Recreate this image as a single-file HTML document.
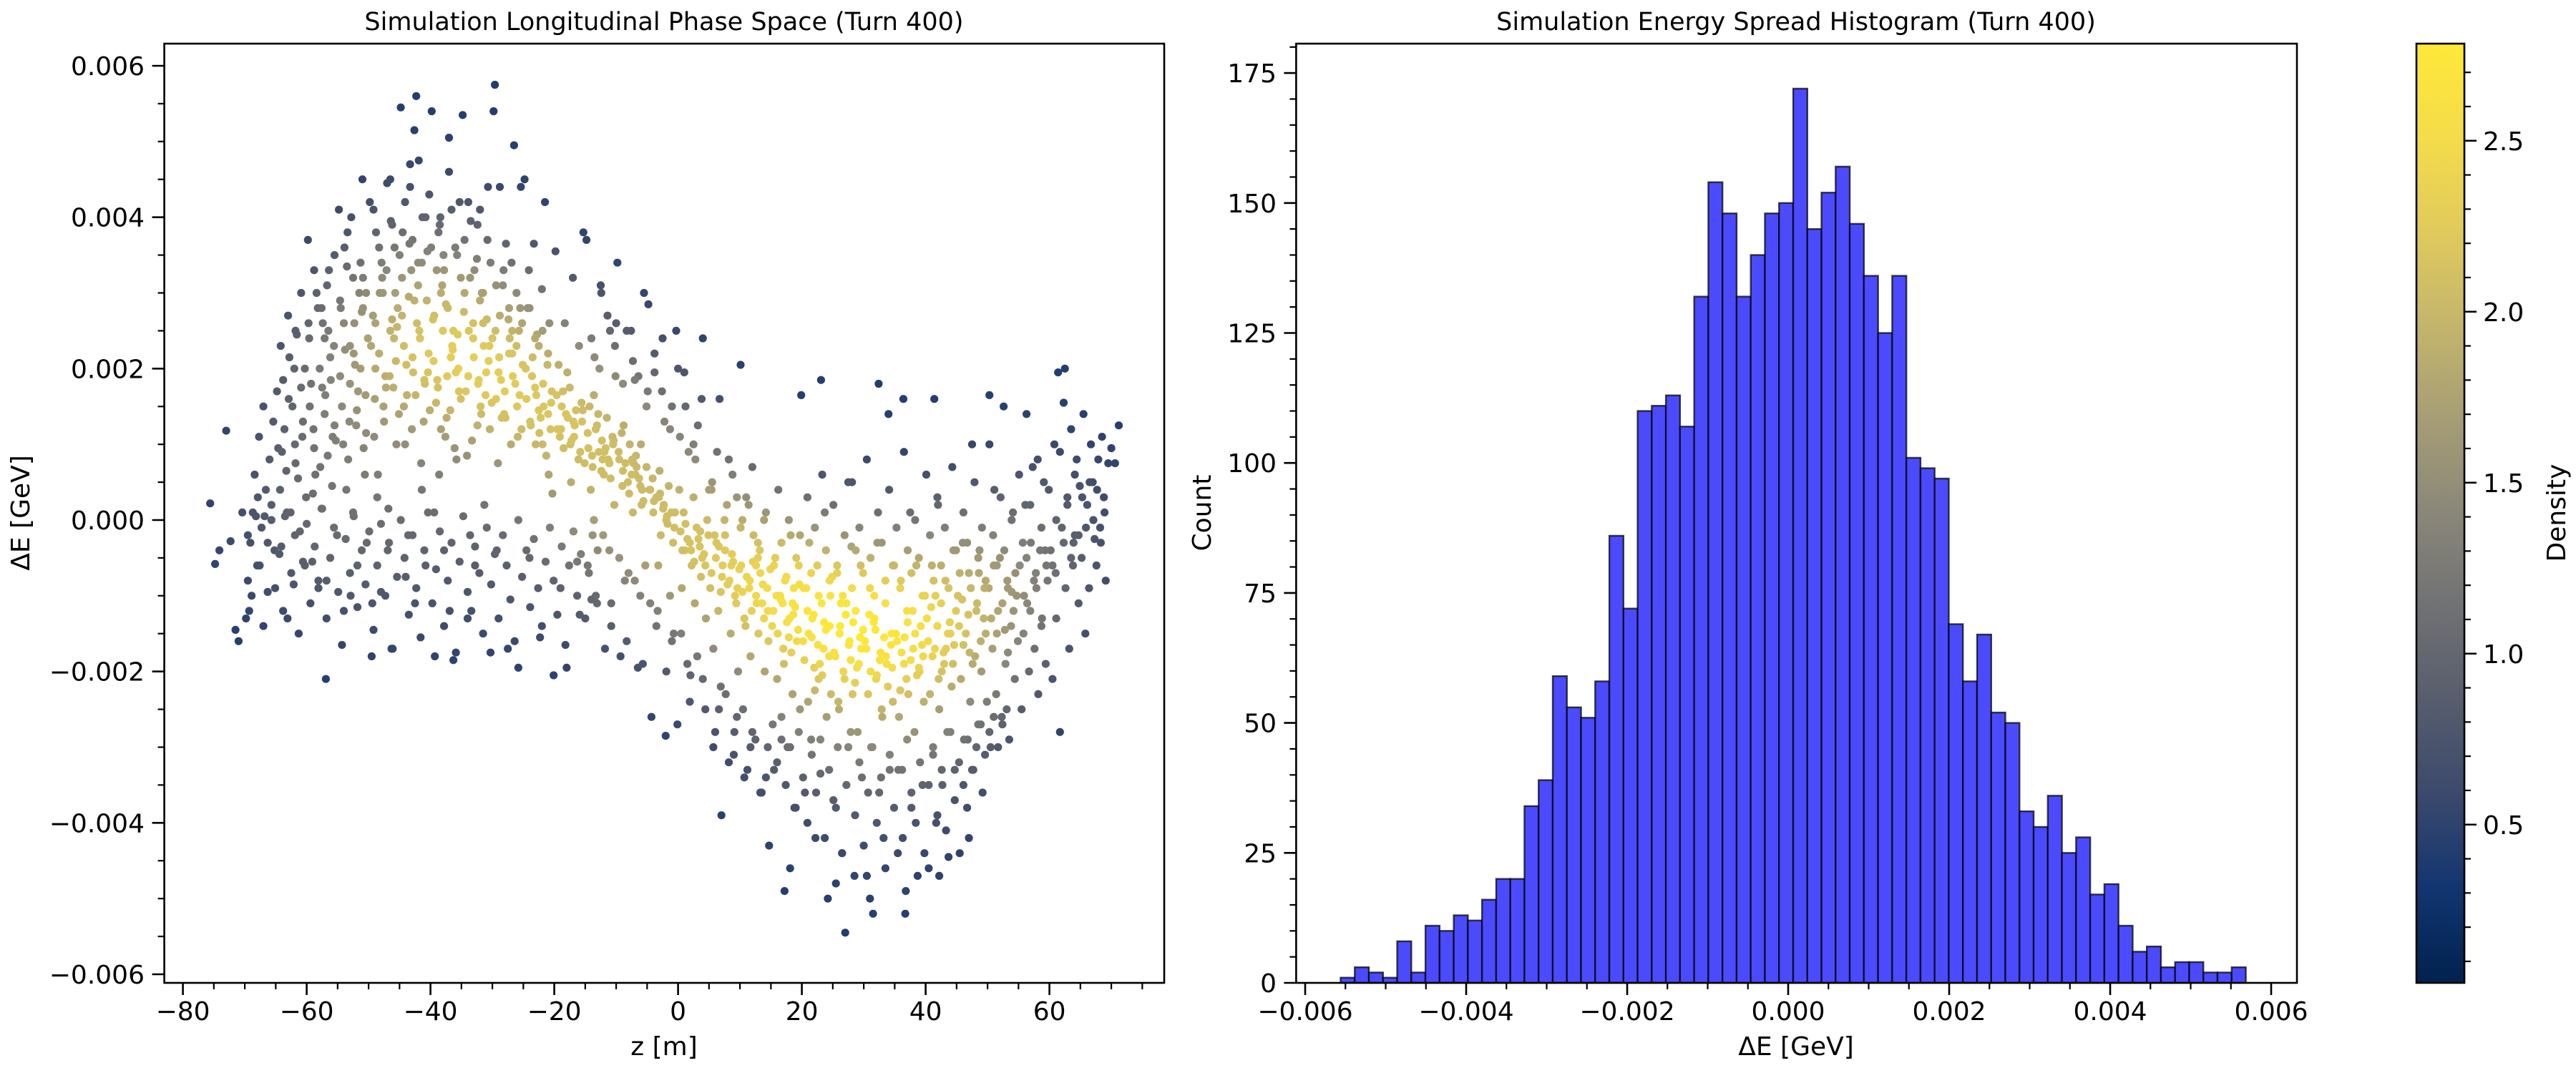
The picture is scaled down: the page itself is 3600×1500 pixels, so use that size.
<!DOCTYPE html>
<html><head><meta charset="utf-8">
<style>
html,body{margin:0;padding:0;background:#fff;}
svg{display:block;}
text{font-family:"DejaVu Sans","Liberation Sans",sans-serif;fill:#000;}
</style></head>
<body>
<svg id="fig" xmlns="http://www.w3.org/2000/svg" width="3600" height="1500" viewBox="0 0 3600 1500">
<defs>
<linearGradient id="cividis" x1="0" y1="1" x2="0" y2="0">
<stop offset="0" stop-color="#00224e"/><stop offset="0.1" stop-color="#123570"/><stop offset="0.2" stop-color="#3b496c"/><stop offset="0.3" stop-color="#575d6d"/><stop offset="0.4" stop-color="#707173"/><stop offset="0.5" stop-color="#8a8779"/><stop offset="0.6" stop-color="#a69d75"/><stop offset="0.7" stop-color="#c4b56c"/><stop offset="0.8" stop-color="#e0ca5c"/><stop offset="0.9" stop-color="#f4dc4a"/><stop offset="1" stop-color="#fee838"/>
</linearGradient>
</defs>
<g id="left"></g>
<g id="right"></g>
<g id="cbar"></g>
</svg>
<script>
// ---- scatter data: z [m] and dE [1e-5 GeV] ----
const zVals = [
-75.6,-74.8,-74.1,-73.0,-72.3,-71.5,-71.0,-70.4,
-69.8,-69.5,-69.1,-68.7,-68.4,-68.0,-67.7,-67.3,-67.0,-66.6,-66.3,-66.0,-65.7,-65.4,-65.2,-69.3,-67.9,-66.8,
-64.8,-64.6,-64.3,-64.1,-63.8,-63.6,-63.3,-63.1,-62.8,-62.6,-62.3,-62.1,-61.9,-61.6,-61.4,-61.1,-60.9,-60.6,-60.3,-60.1,-64.0,-62.9,-61.8,-60.7,-63.5,-62.0,
-59.8,-59.6,-59.3,-59.1,-58.9,-58.6,-58.4,-58.1,-57.9,-57.6,-57.4,-57.1,-56.9,-56.6,-56.4,-56.1,-55.9,-55.6,-55.3,-55.1,-59.5,-58.8,-58.2,-57.5,-56.8,-56.2,-55.5,-59.0,-57.8,-56.5,-57.0,-55.8,
-54.8,-54.5,-54.3,-54.0,-53.8,-53.5,-53.3,-53.0,-52.8,-52.5,-52.3,-52.0,-51.8,-51.5,-51.3,-51.0,-50.8,-50.5,-50.3,-50.1,-54.6,-53.9,-53.1,-52.4,-51.7,-51.1,-50.6,-54.1,-52.9,-51.9,-50.9,-53.6,-52.2,-50.4,
-49.8,-49.5,-49.3,-49.0,-48.8,-48.5,-48.3,-48.0,-47.8,-47.5,-47.3,-47.0,-46.8,-46.5,-46.3,-46.0,-45.8,-45.5,-45.3,-45.1,-49.6,-48.9,-48.2,-47.6,-46.9,-46.2,-45.6,-49.1,-47.9,-46.6,-45.9,-48.6,-47.2,-45.4,-46.4,-49.4,
-44.8,-44.5,-44.3,-44.0,-43.8,-43.5,-43.3,-43.0,-42.8,-42.5,-42.3,-42.0,-41.8,-41.5,-41.3,-41.0,-40.8,-40.5,-40.3,-40.1,-44.6,-43.9,-43.1,-42.4,-41.7,-41.1,-40.6,-44.1,-42.9,-41.9,-40.9,-43.6,-42.2,-40.4,-42.6,-41.4,-43.4,-44.3,
-39.8,-39.5,-39.3,-39.0,-38.8,-38.5,-38.3,-38.0,-37.8,-37.5,-37.3,-37.0,-36.8,-36.5,-36.3,-36.0,-35.8,-35.5,-35.3,-35.1,-39.6,-38.9,-38.1,-37.4,-36.7,-36.1,-35.6,-39.1,-37.9,-36.9,-35.9,-38.6,-37.2,-35.4,-36.4,-39.4,-38.4,-37.6,
-34.8,-34.5,-34.3,-34.0,-33.8,-33.5,-33.3,-33.0,-32.8,-32.5,-32.3,-32.0,-31.8,-31.5,-31.3,-31.0,-30.8,-30.5,-30.3,-30.1,-34.6,-33.9,-33.1,-32.4,-31.7,-31.1,-30.6,-34.1,-32.9,-31.9,-30.9,-33.6,-32.2,-30.4,-31.4,-29.6,
-29.8,-29.5,-29.3,-29.0,-28.8,-28.5,-28.3,-28.0,-27.8,-27.5,-27.3,-27.0,-26.8,-26.5,-26.3,-26.0,-25.8,-25.5,-25.3,-25.1,-29.4,-28.9,-28.1,-27.4,-26.7,-26.1,-25.6,-29.1,-27.9,-26.9,-25.9,-28.6,-27.2,-25.4,
-24.8,-24.5,-24.3,-24.0,-23.8,-23.5,-23.3,-23.0,-22.8,-22.5,-22.3,-22.0,-21.8,-21.5,-21.3,-21.0,-20.8,-20.5,-20.3,-20.1,-24.6,-23.9,-23.1,-22.4,-21.7,-21.1,-20.6,-24.1,-22.9,-21.9,-20.9,-23.6,-22.2,-20.4,
-19.8,-19.5,-19.3,-19.0,-18.8,-18.5,-18.3,-18.0,-17.8,-17.5,-17.3,-17.0,-16.8,-16.5,-16.3,-16.0,-15.8,-15.5,-15.3,-15.1,-19.6,-18.9,-18.1,-17.4,-16.7,-16.1,-15.6,-19.1,-17.9,-16.9,-15.9,-18.6,-17.2,-15.4,
-14.8,-14.5,-14.3,-14.0,-13.8,-13.5,-13.3,-13.0,-12.8,-12.5,-12.3,-12.0,-11.8,-11.5,-11.3,-11.0,-10.8,-10.5,-10.3,-10.1,-14.6,-13.9,-13.1,-12.4,-11.7,-11.1,-10.6,-14.1,-12.9,-11.9,-10.9,-13.6,-12.2,-10.4,
-9.8,-9.5,-9.3,-9.0,-8.8,-8.5,-8.3,-8.0,-7.8,-7.5,-7.3,-7.0,-6.8,-6.5,-6.3,-6.0,-5.8,-5.5,-5.3,-5.1,-9.6,-8.9,-8.1,-7.4,-6.7,-6.1,-5.6,-9.1,-7.9,-6.9,-5.9,-7.2,
-4.8,-4.5,-4.3,-4.0,-3.8,-3.5,-3.3,-3.0,-2.8,-2.5,-2.3,-2.0,-1.8,-1.5,-1.3,-1.0,-0.8,-0.5,-0.3,-0.1,-4.6,-3.9,-3.1,-2.4,-1.7,-1.1,-0.6,-4.1,-2.9,-1.9,
0.2,0.5,0.7,1.0,1.2,1.5,1.7,2.0,2.2,2.5,2.7,3.0,3.2,3.5,3.7,4.0,4.2,4.5,4.7,4.9,0.4,1.1,1.9,2.6,3.3,3.9,4.4,0.9,2.1,3.6,
5.2,5.5,5.7,6.0,6.2,6.5,6.7,7.0,7.2,7.5,7.7,8.0,8.2,8.5,8.7,9.0,9.2,9.5,9.7,9.9,5.4,6.1,6.9,7.6,8.3,8.9,9.4,5.9,7.1,8.6,9.6,6.6,
10.2,10.5,10.7,11.0,11.2,11.5,11.7,12.0,12.2,12.5,12.7,13.0,13.2,13.5,13.7,14.0,14.2,14.5,14.7,14.9,10.4,11.1,11.9,12.6,13.3,13.9,14.4,10.9,12.1,13.6,14.6,11.6,12.9,10.1,
15.2,15.5,15.7,16.0,16.2,16.5,16.7,17.0,17.2,17.5,17.7,18.0,18.2,18.5,18.7,19.0,19.2,19.5,19.7,19.9,15.4,16.1,16.9,17.6,18.3,18.9,19.4,15.9,17.1,18.6,19.6,16.6,17.9,18.1,
20.2,20.5,20.7,21.0,21.2,21.5,21.7,22.0,22.2,22.5,22.7,23.0,23.2,23.5,23.7,24.0,24.2,24.5,24.7,24.9,20.4,21.1,21.9,22.6,23.3,23.9,24.4,20.9,22.1,23.6,24.6,21.6,22.9,23.1,
25.2,25.5,25.7,26.0,26.2,26.5,26.7,27.0,27.2,27.5,27.7,28.0,28.2,28.5,28.7,29.0,29.2,29.5,29.7,29.9,25.4,26.1,26.9,27.6,28.3,28.9,29.4,25.9,27.1,28.6,29.6,26.6,27.9,28.1,
30.2,30.5,30.7,31.0,31.2,31.5,31.7,32.0,32.2,32.5,32.7,33.0,33.2,33.5,33.7,34.0,34.2,34.5,34.7,34.9,30.4,31.1,31.9,32.6,33.3,33.9,34.4,30.9,32.1,33.6,34.6,31.6,32.9,32.4,
35.2,35.5,35.7,36.0,36.2,36.5,36.7,37.0,37.2,37.5,37.7,38.0,38.2,38.5,38.7,39.0,39.2,39.5,39.7,39.9,35.4,36.1,36.9,37.6,38.3,38.9,39.4,35.9,37.1,38.6,39.6,36.6,37.9,36.4,
40.2,40.5,40.7,41.0,41.2,41.5,41.7,42.0,42.2,42.5,42.7,43.0,43.2,43.5,43.7,44.0,44.2,44.5,44.7,44.9,40.4,41.1,41.9,42.6,43.3,43.9,44.4,40.9,42.1,43.6,44.6,41.6,42.9,41.4,
45.2,45.5,45.7,46.0,46.2,46.5,46.7,47.0,47.2,47.5,47.7,48.0,48.2,48.5,48.7,49.0,49.2,49.5,49.7,49.9,45.4,46.1,46.9,47.6,48.3,48.9,49.4,45.9,47.1,48.6,
50.2,50.5,50.8,51.1,51.4,51.7,52.0,52.3,52.6,52.9,53.2,53.5,53.8,54.1,54.4,54.7,54.9,50.6,51.5,52.4,53.3,54.2,51.0,52.8,53.9,50.3,
55.2,55.5,55.8,56.1,56.4,56.7,57.0,57.3,57.6,57.9,58.2,58.5,58.8,59.1,59.4,59.7,55.9,56.9,57.8,58.7,59.5,56.3,
60.2,60.5,60.8,61.1,61.4,61.7,62.0,62.3,62.6,62.9,63.2,63.5,63.8,64.1,64.4,64.7,61.0,62.5,63.9,64.9,
65.2,65.5,65.8,66.1,66.4,66.7,67.0,67.3,67.6,67.9,68.2,68.5,68.8,69.1,69.5,70.0,70.6,71.2,
-69.5,-68.9,-68.2,-67.6,-67.0,-66.3,-65.7,-65.1,-64.4,-63.8,-63.2,-62.5,-61.9,-61.3,-60.6,-60.0,-59.4,-58.7,-58.1,-57.5,-56.8,-56.2,-55.6,-54.9,-54.3,-53.7,-53.0,-52.4,-51.8,-51.1,-50.5,-49.9,-49.2,-48.6,-48.0,-47.3,-46.7,-46.1,-45.4,-44.8,-44.2,-43.5,-42.9,-42.3,-41.6,-41.0,-40.4,-39.7,-39.1,-38.5,-37.8,-37.2,-36.6,-35.9,-35.3,-34.7,-34.0,-33.4,-32.8,-32.1,-31.5,-30.9,-30.2,-29.6,-29.0,-28.3,-27.7,-27.1,-26.4,-25.8,-25.2,-24.5,-23.9,-23.3,-22.6,-22.0,-21.4,-20.7,-20.1,-19.5,-18.8,-18.2,-17.6,-16.9,-16.3,-15.7,-15.0,-14.4,-13.8,-13.1,
-64.2,-63.0,-61.8,-60.9,-59.7,-58.8,-57.6,-56.7,-55.5,-54.6,-53.4,-52.5,-51.3,-50.4,-49.2,-48.3,-47.1,-46.2,-45.0,-44.1,-42.9,-42.0,-40.8,-39.9,-38.7,-37.8,-36.6,-35.7,-34.5,-33.6,-32.4,-31.5,-30.3,-29.4,-28.2,-27.3,-26.1,-25.2,-24.0,-23.1,-21.9,-21.0,-60.3,-57.1,-54.0,-50.9,-47.7,-44.6,-41.4,-38.3,-35.1,-32.0,-28.8,-25.7,-22.5,-53.0,-48.9,-45.7,-42.6,-39.4,-36.3,-33.1,-30.0,-26.8,-46.5,-43.3,-40.2,-37.0,-33.9,-30.7,
-14.6,-14.0,-13.3,-12.7,-12.1,-11.4,-10.8,-10.2,-9.5,-8.9,-8.3,-7.6,-7.0,-6.4,-5.7,-5.1,-4.5,-3.8,-3.2,-2.6,-1.9,-1.3,-0.7,0.0,0.6,1.2,1.9,2.5,3.1,3.8,4.4,5.0,5.7,6.3,6.9,7.6,8.2,8.8,9.5,10.1,10.7,11.4,12.0,12.6,13.3,13.9,14.5,-12.4,-10.0,-7.3,-4.9,-2.2,0.3,2.8,5.4,7.9,10.4,12.9,-13.6,-11.1,-8.6,-6.1,-3.5,-1.0,1.5,4.0,6.6,9.1,11.7,14.2,
15.5,16.1,16.7,17.3,17.9,18.5,19.1,19.7,20.3,20.9,21.5,22.1,22.7,23.3,23.9,24.5,25.1,25.7,26.3,26.9,27.5,28.1,28.7,29.3,29.9,30.5,31.1,31.7,32.3,32.9,33.5,34.1,34.7,35.3,35.9,36.5,37.1,37.7,38.3,38.9,39.5,40.1,40.7,41.3,41.9,42.5,43.1,43.7,44.3,44.9,45.5,46.1,46.7,47.3,47.9,48.5,49.1,49.7,50.3,50.9,51.5,52.1,52.7,53.3,53.9,54.5,55.1,55.7,56.3,56.9,57.5,58.1,58.7,59.3,59.9,60.5,61.1,61.7,62.3,62.9,63.5,64.1,64.7,65.3,65.9,66.5,67.1,67.7,68.3,68.9,
15.3,16.0,16.7,17.4,18.1,18.8,19.5,20.2,20.9,21.6,22.3,23.0,23.7,24.4,25.1,25.8,26.5,27.2,27.9,28.6,29.3,30.0,30.7,31.4,32.1,32.8,33.5,34.2,34.9,35.6,36.3,37.0,37.7,38.4,39.1,39.8,40.5,41.2,41.9,42.6,43.3,44.0,44.7,45.4,46.1,46.8,47.5,48.2,48.9,49.6,50.3,51.0,51.7,52.4,53.1,25.5,31.0,36.8,42.2,47.0
];
const dEVals = [
22,-58,-40,118,-28,-145,-160,10,
-130,-80,-30,10,60,-60,110,-10,150,40,-95,80,20,130,-40,-120,30,5,
170,95,40,-35,185,120,65,-130,215,10,150,-85,100,245,55,-15,175,130,-60,30,90,160,75,110,5,200,
370,240,180,-55,120,60,300,-90,200,15,260,140,-210,85,330,185,45,230,105,-20,150,95,280,175,-80,215,125,35,70,250,165,110,
410,280,150,-120,225,335,80,180,400,10,260,125,-60,300,200,450,95,165,-30,240,190,360,130,220,170,275,60,100,-100,145,320,40,205,115,
420,-180,270,160,380,60,220,-95,320,130,190,445,15,250,-170,175,360,100,280,140,230,200,300,150,-40,265,210,110,340,190,240,30,175,255,395,-110,
545,380,230,-75,165,295,440,120,195,-110,560,310,250,75,400,185,-60,355,220,145,270,205,330,165,240,130,290,100,215,475,180,-20,260,195,515,40,365,150,
540,210,-180,330,175,390,120,250,-40,285,190,505,145,230,-185,360,80,200,420,160,265,185,310,135,215,95,245,155,350,-120,195,60,280,170,225,10,400,110,
535,300,170,-130,250,395,105,215,-60,345,180,410,140,260,20,195,370,230,-175,155,275,190,240,125,300,165,210,85,330,150,265,-20,185,120,230,575,
540,250,-40,195,440,135,310,170,365,-170,220,100,250,495,180,150,-195,280,120,205,160,215,140,265,190,230,165,75,135,340,110,185,240,440,
450,160,280,-50,125,215,365,100,245,145,-155,305,180,420,85,140,260,155,35,-205,200,130,175,115,150,205,120,330,165,100,60,190,135,170,
355,120,205,-90,150,95,260,-195,135,175,50,320,110,145,-55,230,90,130,380,75,165,120,140,100,125,80,155,110,195,130,-125,170,105,145,
370,95,150,-105,70,215,120,-40,90,310,105,60,-170,135,80,250,-110,100,20,190,115,85,125,65,95,75,110,40,140,90,55,165,80,105,
340,80,-180,45,125,75,250,-70,100,60,10,185,85,-195,55,100,40,300,-60,70,90,65,50,80,70,45,25,115,35,60,20,75,
285,40,-260,10,195,30,-120,65,-20,240,20,-285,5,45,-100,150,-30,10,250,-270,40,25,30,15,-5,10,-10,55,35,0,
40,-150,-40,195,-5,-25,90,-205,-60,30,-110,-10,125,-35,-75,240,-45,-130,0,-20,-15,-40,-30,-55,-25,-50,-60,10,-40,-15,
-90,50,-170,-280,-30,-120,160,-390,-60,0,-230,-85,80,-150,-45,-310,-100,30,-200,-65,-70,-50,-95,-40,-80,-55,-110,-20,-75,-60,-90,-35,
-60,-250,-130,30,-330,-90,-180,70,-20,-290,-110,-150,-40,-360,-85,-200,10,-120,-430,-65,-95,-75,-120,-100,-70,-130,-90,-140,-55,-110,-160,-80,-50,205,
-140,-330,-50,-210,40,-100,-260,-170,-490,-75,-300,-130,-20,-230,-90,-380,-160,-60,-250,165,-120,-150,-110,-135,-175,-115,-145,-100,-190,-125,-85,-105,-155,-460,
-160,-360,-90,-240,-30,-290,-130,-195,-420,-60,-210,-335,-110,-170,10,-260,-500,-140,-230,-75,-185,-150,-125,-165,-205,-145,-180,-120,-225,-135,-100,-155,-190,185,
-175,-380,-70,-250,-140,-440,-200,-545,-110,-300,-160,-35,-230,-470,-120,-280,-190,-60,-340,-145,-180,-150,-210,-165,-135,-195,-155,-240,-125,-215,-170,-100,-185,50,
-160,-470,-230,-90,-300,-520,-130,-210,-30,-360,-175,-260,-420,-110,-190,140,-330,-150,-240,-60,-170,-200,-145,-185,-155,-220,-165,-125,-205,-180,-195,-135,-250,180,
-150,-440,-260,-80,-330,-190,-520,-120,-230,10,-380,-170,-280,-60,-470,-200,-140,-350,-240,-100,-160,-175,-210,-185,-150,-195,-165,-225,-135,-205,-180,-155,-120,160,
-130,-460,-230,-60,-310,-170,-400,20,-250,-110,-350,-190,-80,-280,-445,-150,-220,-40,-330,-120,-160,-180,-140,-200,-170,-135,-190,-115,-210,-150,-165,-100,-175,160,
-100,-440,-210,-30,-290,-150,-380,-70,-240,100,-330,-180,-120,-270,-40,-200,-360,-90,-150,-240,-140,-165,-125,-190,-110,-160,-130,-105,-175,-70,
-90,-300,-170,40,-230,-120,-50,-260,150,-190,-80,-290,-140,10,-210,-100,-160,-130,-150,-110,-175,-120,-60,-145,-95,165,
-60,-250,-150,20,-110,-200,-30,70,-170,-90,-230,-40,-130,50,-190,-80,-100,-120,-70,-140,-60,140,
-40,-210,100,-130,195,-280,-10,155,-90,30,-170,120,-60,-20,80,-110,-70,200,-30,45,
-50,140,-150,20,-90,100,50,-25,-60,80,-10,110,30,-80,75,95,75,125,
-20,-100,5,-60,-140,-30,0,-90,-45,-120,10,-70,-20,-150,-55,-5,-110,-35,-80,15,-130,-50,-10,-95,-165,-25,-70,5,-115,-40,-85,-15,-145,-60,-5,-100,-30,-170,-75,0,-50,-125,-20,-90,-155,-40,10,-110,-65,-15,-140,-80,-30,-175,-55,5,-95,-120,-35,-70,-150,-10,-85,-45,-130,-20,-60,-105,-160,0,-75,-40,-115,-25,-90,-140,-55,-10,-80,-125,-35,-165,-60,-15,-100,-45,-130,-70,-20,-110,
230,270,250,300,260,330,280,310,350,290,380,320,340,300,410,360,330,390,350,420,370,340,400,360,380,330,410,350,370,320,390,300,340,310,330,280,300,260,280,240,250,220,200,240,260,280,300,320,340,300,320,290,270,250,230,230,260,300,290,270,250,260,240,220,450,470,430,460,420,440,
-60,240,-100,200,-20,270,-140,230,-50,180,-160,250,-80,190,-190,150,-110,220,-60,170,-200,120,-150,200,-90,150,-240,100,-180,160,-250,40,-300,90,-220,-20,-320,60,-260,-10,-340,20,-280,-60,-360,0,-300,300,260,210,170,130,110,80,40,20,0,-30,0,-40,-80,-100,-140,-160,-190,-210,-250,-280,-300,-340,
-60,-100,-30,-80,0,-110,-50,-20,-90,30,-70,-10,-100,60,-40,-80,20,-60,-110,-20,50,-90,-40,-10,-70,80,-50,-100,10,-30,-80,40,-60,-10,-90,90,-40,-70,0,-50,-100,60,-20,-80,30,-60,-10,-90,70,-40,-70,10,-30,-90,50,-50,-10,-80,100,-20,-60,30,-40,-90,0,-70,60,-30,-50,20,-80,80,-10,-40,40,-60,0,90,-30,20,-50,60,-20,30,-10,50,0,40,-30,10,
-270,-320,-290,-350,-300,-380,-280,-340,-400,-310,-360,-290,-420,-330,-370,-300,-440,-350,-280,-390,-320,-430,-360,-300,-400,-340,-460,-310,-380,-330,-420,-290,-360,-400,-320,-440,-350,-300,-390,-330,-410,-280,-370,-320,-350,-290,-330,-300,-270,-310,-280,-260,-300,-270,-250,-480,-500,-490,-470,-420
];
// ---- histogram data ----
const histCounts = [1,3,2,1,8,2,11,10,13,12,16,20,20,34,39,59,53,51,58,86,72,110,111,113,107,132,154,148,132,140,148,150,
172,145,152,157,146,136,125,136,101,99,97,69,58,67,52,50,33,30,36,25,28,17,19,11,6,7,3,4,4,2,2,3];
const histRange = [-0.00556, 0.005685];
// ---- tick labels ----
const zTicks = [-80,-60,-40,-20,0,20,40,60];
const dETicks = [-0.006,-0.004,-0.002,0,0.002,0.004,0.006];
const countTicks = [0,25,50,75,100,125,150,175];
const histXTicks = [-0.006,-0.004,-0.002,0,0.002,0.004,0.006];
const cbTicks = [0.5,1.0,1.5,2.0,2.5];
const cbRange = [0.037, 2.784];

const NS="http://www.w3.org/2000/svg";
function mk(parent,tag,attrs,txt){const e=document.createElementNS(NS,tag);for(const k in attrs)e.setAttribute(k,attrs[k]);if(txt!==undefined)e.textContent=txt;parent.appendChild(e);return e;}
function fmt(v,d){const s=Math.abs(v).toFixed(d);return (v<-1e-12?"\u2212":"")+s;}

const X1=z=>255.6+(z+80)*8.65;
const Y1=e=>92+(0.006-e)*105833;
const HX=v=>1824+(v+0.006)*112500;
const HY=c=>1374-c*7.268;
const CY=v=>61+(cbRange[1]-v)*478;

const cmapStops=[[0,0,34,78],[0.1,18,53,112],[0.2,59,73,108],[0.3,87,93,109],[0.4,112,113,115],[0.5,138,135,121],[0.6,166,157,117],[0.7,196,181,108],[0.8,224,202,92],[0.9,244,220,74],[1,254,232,56]];
function cmap(t){t=Math.max(0,Math.min(1,t));for(let i=1;i<cmapStops.length;i++){if(t<=cmapStops[i][0]){const a=cmapStops[i-1],b=cmapStops[i];const f=(t-a[0])/(b[0]-a[0]);return `rgb(${Math.round(a[1]+f*(b[1]-a[1]))},${Math.round(a[2]+f*(b[2]-a[2]))},${Math.round(a[3]+f*(b[3]-a[3]))})`;}}return "rgb(254,232,56)";}

// ===== Left panel =====
const L=document.getElementById('left');
const t1=mk(L,'text',{x:928,y:42,'font-size':35,'text-anchor':'middle'},'Simulation Longitudinal Phase Space (Turn 400)');


const n=Math.min(zVals.length,dEVals.length);
const dens=new Array(n).fill(0);
const bz=12, be=95;
for(let i=0;i<n;i++){let s=0;for(let j=0;j<n;j++){const a=(zVals[i]-zVals[j])/bz,b=(dEVals[i]-dEVals[j])/be;const q=a*a+b*b;if(q<9)s+=Math.exp(-0.5*q);}dens[i]=s;}
const dmax=Math.max(...dens), dmin=Math.min(...dens);
const order=[...Array(n).keys()].sort((a,b)=>dens[a]-dens[b]);
const pts=mk(L,'g',{});


for(const i of order){
  const t=0.14+0.86*Math.pow((dens[i]-dmin)/(dmax-dmin),1.9);
  const c=mk(pts,'circle',{cx:X1(zVals[i]).toFixed(1),cy:Y1(dEVals[i]*1e-5).toFixed(1),r:5.6,fill:cmap(t)});
  
  
}
const fr1=mk(L,'rect',{x:229.6,y:61,width:1397.4,height:1313,fill:'none',stroke:'#000','stroke-width':2.6});


for(let v=-80;v<=75;v+=5){const x=X1(v);const maj=v%20===0;mk(L,'line',{x1:x,x2:x,y1:1374,y2:1374+(maj?17:9),stroke:'#000','stroke-width':maj?2.6:2.2});}
for(const v of zTicks){const tx=mk(L,'text',{x:X1(v),y:1426,'font-size':36,'text-anchor':'middle'},fmt(v,0));

}
for(let k=-12;k<=12;k++){const v=k*0.0005;const y=Y1(v);const maj=k%4===0;mk(L,'line',{x1:229.6,x2:229.6-(maj?17:9),y1:y,y2:y,stroke:'#000','stroke-width':maj?2.6:2.2});}
for(const v of dETicks){const ty=mk(L,'text',{x:202,y:Y1(v)+13,'font-size':36,'text-anchor':'end'},fmt(v,3));

}
const xl1=mk(L,'text',{x:928,y:1475,'font-size':36,'text-anchor':'middle'},'z [m]');


const yl1=mk(L,'text',{x:0,y:0,'font-size':36,'text-anchor':'middle',transform:'translate(41,717) rotate(-90)'},'\u0394E [GeV]');



// ===== Right panel =====
const R=document.getElementById('right');
const t2=mk(R,'text',{x:2510,y:42,'font-size':35,'text-anchor':'middle'},'Simulation Energy Spread Histogram (Turn 400)');


const bw=(histRange[1]-histRange[0])/histCounts.length;
const bars=mk(R,'g',{});


histCounts.forEach((c,i)=>{
  const x0=HX(histRange[0]+i*bw),x1=HX(histRange[0]+(i+1)*bw);
  const r=mk(bars,'rect',{x:x0.toFixed(2),y:HY(c).toFixed(2),width:(x1-x0).toFixed(2),height:(HY(0)-HY(c)).toFixed(2),fill:'#4b4bfd',stroke:'rgba(0,0,0,0.72)','stroke-width':2.4});
  
  
});
const fr2=mk(R,'rect',{x:1811.4,y:61,width:1398.6,height:1313,fill:'none',stroke:'#000','stroke-width':2.6});


for(let k=-12;k<=12;k++){const x=HX(k*0.0005);const maj=k%4===0;mk(R,'line',{x1:x,x2:x,y1:1374,y2:1374+(maj?17:9),stroke:'#000','stroke-width':maj?2.6:2.2});}
for(const v of histXTicks){const tx=mk(R,'text',{x:HX(v),y:1426,'font-size':36,'text-anchor':'middle'},fmt(v,3));

}
for(let c=0;c<=180;c+=5){const y=HY(c);const maj=c%25===0;mk(R,'line',{x1:1811.4,x2:1811.4-(maj?17:9),y1:y,y2:y,stroke:'#000','stroke-width':maj?2.6:2.2});}
for(const c of countTicks){const ty=mk(R,'text',{x:1784,y:HY(c)+13,'font-size':36,'text-anchor':'end'},String(c));

}
const xl2=mk(R,'text',{x:2510,y:1475,'font-size':36,'text-anchor':'middle'},'\u0394E [GeV]');


const yl2=mk(R,'text',{x:0,y:0,'font-size':36,'text-anchor':'middle',transform:'translate(1692,717) rotate(-90)'},'Count');



// ===== Colorbar =====
const C=document.getElementById('cbar');
const cb=mk(C,'rect',{x:3377,y:61,width:67,height:1313,fill:'url(#cividis)',stroke:'#000','stroke-width':2.6});


for(let k=1;k<=27;k++){const v=k*0.1;const y=CY(v);if(y<61||y>1374)continue;const maj=k%5===0;mk(C,'line',{x1:3444,x2:3444+(maj?17:9),y1:y,y2:y,stroke:'#000','stroke-width':maj?2.6:2.2});}
for(const v of cbTicks){const tl=mk(C,'text',{x:3470,y:CY(v)+13,'font-size':36},v.toFixed(1));

}
const cl=mk(C,'text',{x:0,y:0,'font-size':36,'text-anchor':'middle',transform:'translate(3585,717) rotate(-90)'},'Density');


</script>
</body></html>
